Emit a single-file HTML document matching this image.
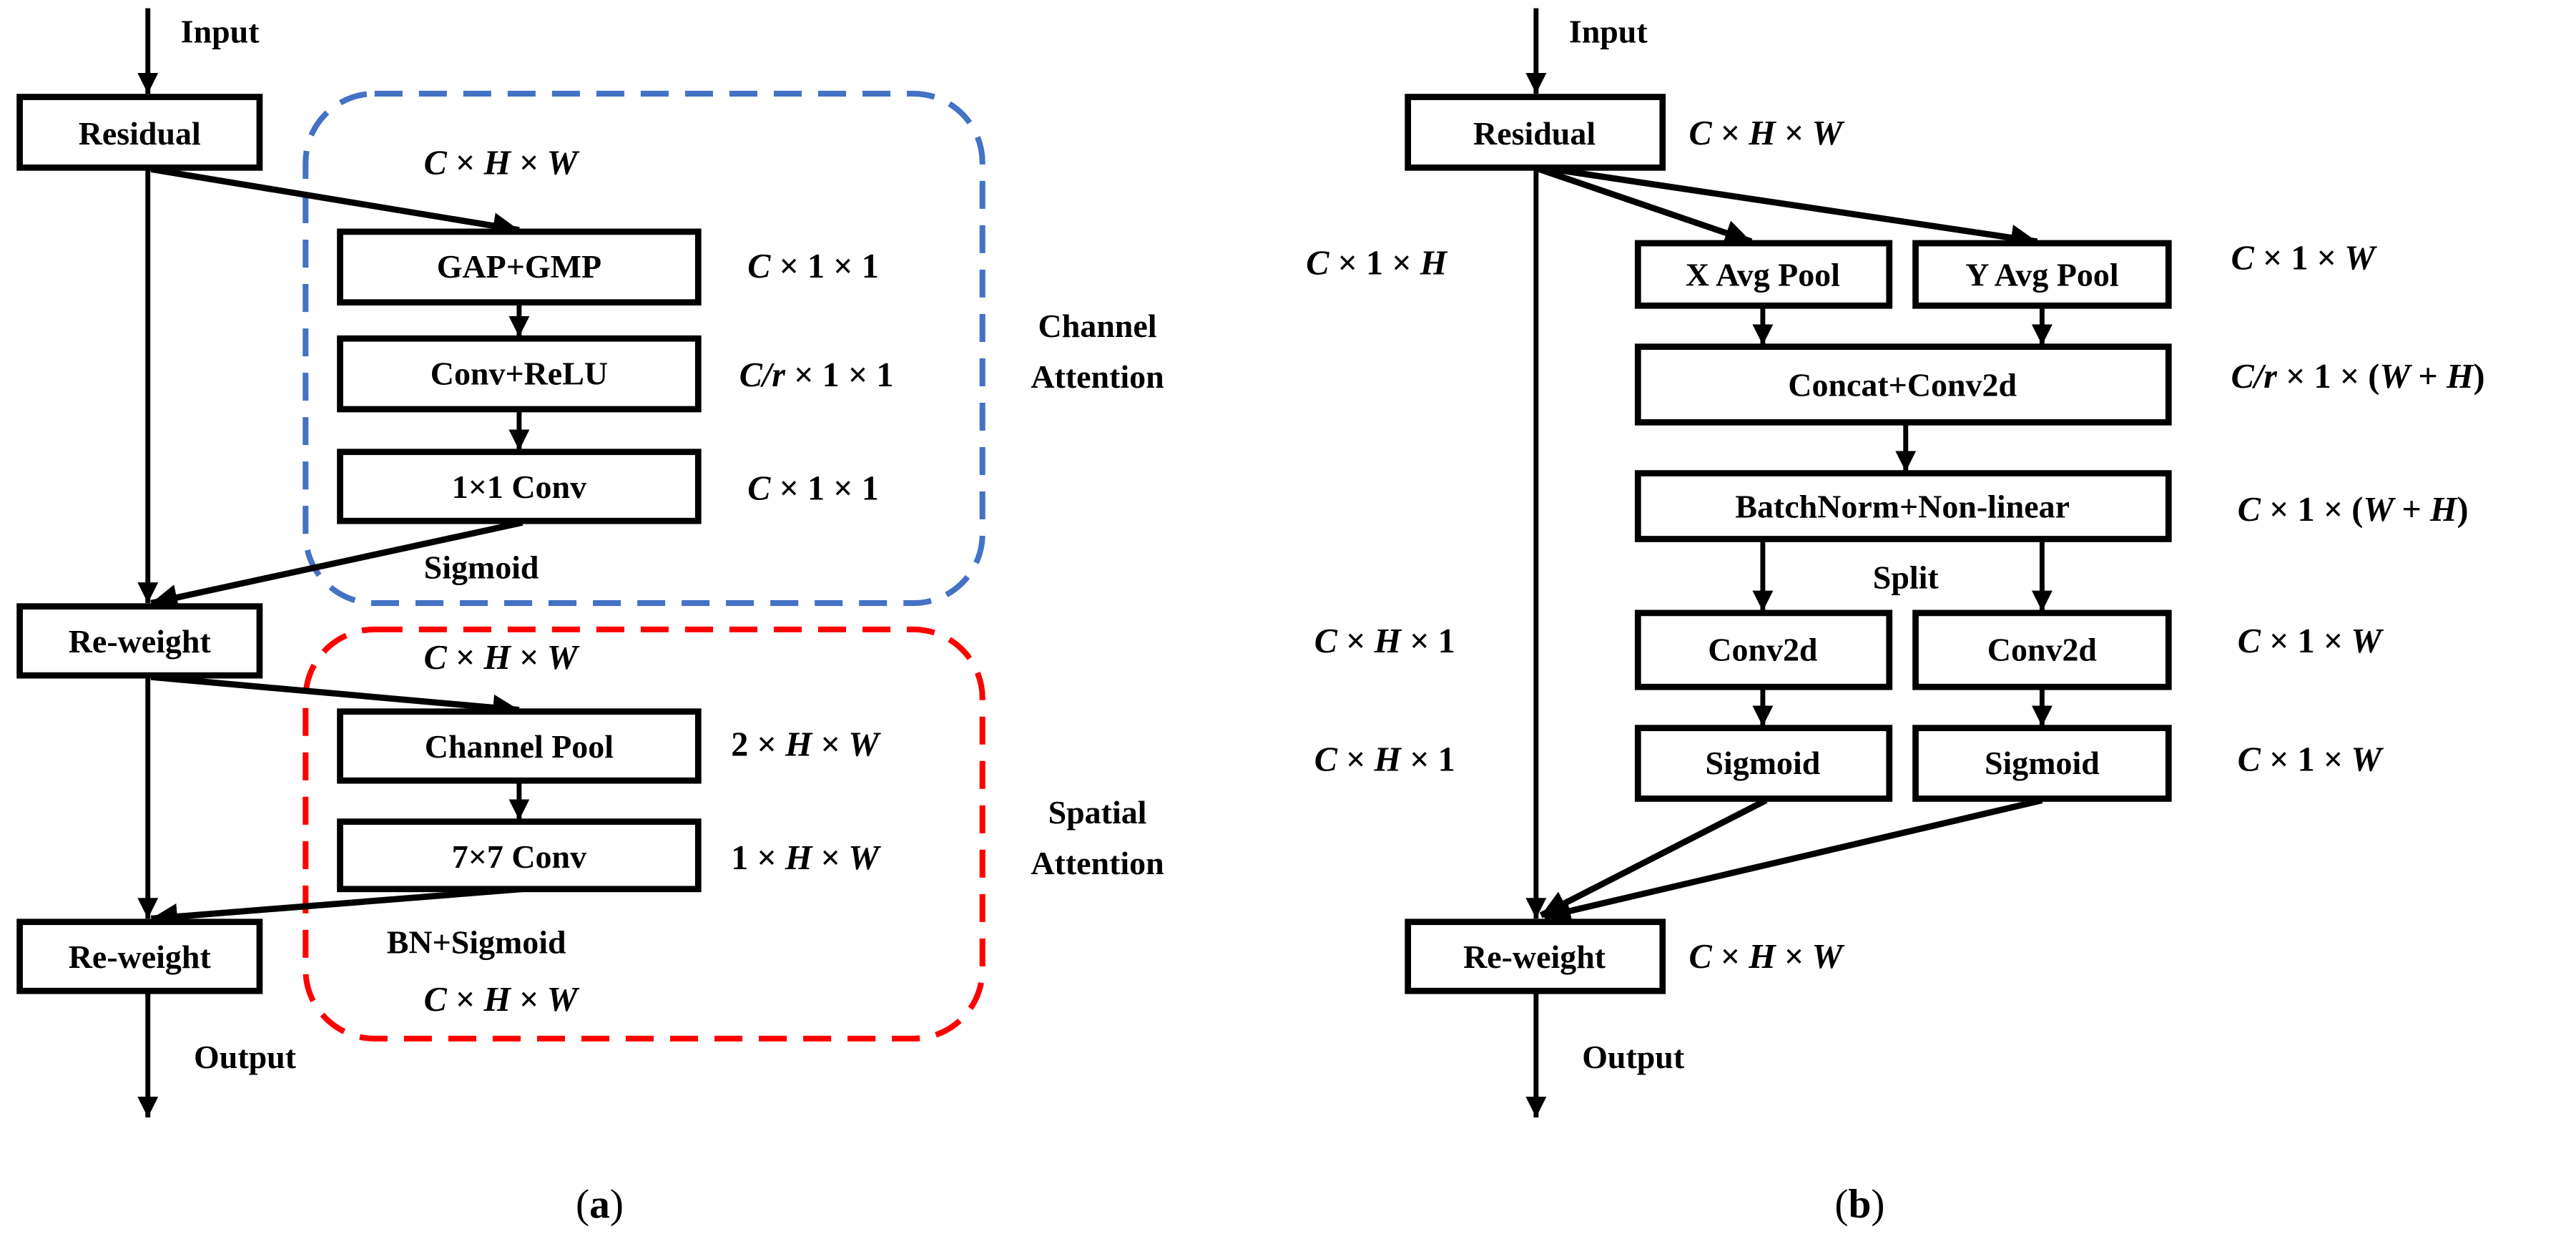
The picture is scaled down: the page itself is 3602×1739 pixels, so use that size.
<!DOCTYPE html>
<html><head><meta charset="utf-8"><style>
html,body{margin:0;padding:0;background:#fff;}
svg{display:block;}
.t{font-family:"Liberation Serif",serif;font-weight:bold;font-size:20px;fill:#000;}
.m{font-family:"Liberation Serif",serif;font-weight:bold;font-style:italic;font-size:21px;fill:#000;}
.n{font-style:normal;}
.b{fill:#fff;stroke:#000;stroke-width:3.8;}
.l{stroke:#000;stroke-width:3;fill:none;}
.l2{stroke:#000;stroke-width:3.8;fill:none;}
</style></head><body>
<svg width="3602" height="1739" viewBox="0 0 1568 757" preserveAspectRatio="none" xmlns="http://www.w3.org/2000/svg">
<defs>
<marker id="a" viewBox="0 0 10 10" refX="10" refY="5" markerWidth="4.2" markerHeight="4.2" orient="auto" markerUnits="strokeWidth"><path d="M0,0 L10,5 L0,10 z" fill="#000"/></marker>
</defs>
<!-- Panel (a) -->
<line class="l" x1="90" y1="5" x2="90" y2="57" marker-end="url(#a)"/>
<text class="t" x="110" y="26">Input</text>
<rect class="b" x="12" y="59" width="146" height="43"/>
<text class="t" x="85" y="88" text-anchor="middle">Residual</text>
<line class="l" x1="90" y1="102" x2="90" y2="367" marker-end="url(#a)"/>
<rect x="186" y="57" width="412" height="310" rx="42" fill="none" stroke="#4472C4" stroke-width="3.5" stroke-dasharray="17,10"/>
<text class="m" x="258" y="106">C <tspan class="n">×</tspan> H <tspan class="n">×</tspan> W</text>
<line class="l2" x1="92" y1="103" x2="316" y2="140" marker-end="url(#a)"/>
<rect class="b" x="207" y="141" width="218" height="43"/>
<text class="t" x="316" y="169" text-anchor="middle">GAP+GMP</text>
<line class="l" x1="316" y1="184" x2="316" y2="205" marker-end="url(#a)"/>
<rect class="b" x="207" y="206" width="218" height="43"/>
<text class="t" x="316" y="234" text-anchor="middle">Conv+ReLU</text>
<line class="l" x1="316" y1="249" x2="316" y2="274" marker-end="url(#a)"/>
<rect class="b" x="207" y="275" width="218" height="42"/>
<text class="t" x="316" y="303" text-anchor="middle">1×1 Conv</text>
<text class="m" x="455" y="169">C <tspan class="n">× 1 × 1</tspan></text>
<text class="m" x="450" y="235">C/r <tspan class="n">× 1 × 1</tspan></text>
<text class="m" x="455" y="304">C <tspan class="n">× 1 × 1</tspan></text>
<text class="t" x="668" y="205" text-anchor="middle">Channel</text>
<text class="t" x="668" y="236" text-anchor="middle">Attention</text>
<line class="l2" x1="318" y1="318" x2="92" y2="367" marker-end="url(#a)"/>
<text class="t" x="293" y="352" text-anchor="middle">Sigmoid</text>
<rect class="b" x="12" y="369" width="146" height="42"/>
<text class="t" x="85" y="397" text-anchor="middle">Re-weight</text>
<line class="l" x1="90" y1="411" x2="90" y2="559" marker-end="url(#a)"/>
<rect x="186" y="383" width="412" height="249" rx="42" fill="none" stroke="#FF0000" stroke-width="3.5" stroke-dasharray="17,10"/>
<text class="m" x="258" y="407">C <tspan class="n">×</tspan> H <tspan class="n">×</tspan> W</text>
<line class="l2" x1="92" y1="412" x2="316" y2="432" marker-end="url(#a)"/>
<rect class="b" x="207" y="433" width="218" height="42"/>
<text class="t" x="316" y="461" text-anchor="middle">Channel Pool</text>
<line class="l" x1="316" y1="475" x2="316" y2="499" marker-end="url(#a)"/>
<rect class="b" x="207" y="500" width="218" height="41"/>
<text class="t" x="316" y="528" text-anchor="middle">7×7 Conv</text>
<text class="m" x="445" y="460"><tspan class="n">2 ×</tspan> H <tspan class="n">×</tspan> W</text>
<text class="m" x="445" y="529"><tspan class="n">1 ×</tspan> H <tspan class="n">×</tspan> W</text>
<text class="t" x="668" y="501" text-anchor="middle">Spatial</text>
<text class="t" x="668" y="532" text-anchor="middle">Attention</text>
<line class="l2" x1="318" y1="541" x2="92" y2="559" marker-end="url(#a)"/>
<rect class="b" x="12" y="561" width="146" height="42"/>
<text class="t" x="85" y="589" text-anchor="middle">Re-weight</text>
<text class="t" x="290" y="580" text-anchor="middle">BN+Sigmoid</text>
<text class="m" x="258" y="615">C <tspan class="n">×</tspan> H <tspan class="n">×</tspan> W</text>
<line class="l" x1="90" y1="603" x2="90" y2="680" marker-end="url(#a)"/>
<text class="t" x="118" y="650">Output</text>
<text x="365" y="741" text-anchor="middle" font-family="Liberation Serif,serif" font-size="25">(<tspan font-weight="bold">a</tspan>)</text>

<!-- Panel (b) -->
<line class="l" x1="935" y1="5" x2="935" y2="57" marker-end="url(#a)"/>
<text class="t" x="955" y="26">Input</text>
<rect class="b" x="857" y="59" width="155" height="43"/>
<text class="t" x="934" y="88" text-anchor="middle">Residual</text>
<text class="m" x="1028" y="88">C <tspan class="n">×</tspan> H <tspan class="n">×</tspan> W</text>
<line class="l" x1="935" y1="102" x2="935" y2="559" marker-end="url(#a)"/>
<line class="l2" x1="937" y1="103" x2="1066" y2="147" marker-end="url(#a)"/>
<line class="l2" x1="945" y1="103" x2="1240" y2="147" marker-end="url(#a)"/>
<rect class="b" x="997" y="148" width="153" height="38"/>
<text class="t" x="1073" y="174" text-anchor="middle">X Avg Pool</text>
<rect class="b" x="1166" y="148" width="154" height="38"/>
<text class="t" x="1243" y="174" text-anchor="middle">Y Avg Pool</text>
<text class="m" x="795" y="167">C <tspan class="n">× 1 ×</tspan> H</text>
<text class="m" x="1358" y="164">C <tspan class="n">× 1 ×</tspan> W</text>
<line class="l" x1="1073" y1="186" x2="1073" y2="210" marker-end="url(#a)"/>
<line class="l" x1="1243" y1="186" x2="1243" y2="210" marker-end="url(#a)"/>
<rect class="b" x="997" y="211" width="323" height="46"/>
<text class="t" x="1158" y="241" text-anchor="middle">Concat+Conv2d</text>
<text class="m" x="1358" y="236">C/r <tspan class="n">× 1 × (</tspan>W <tspan class="n">+</tspan> H<tspan class="n">)</tspan></text>
<line class="l" x1="1160" y1="257" x2="1160" y2="287" marker-end="url(#a)"/>
<rect class="b" x="997" y="288" width="323" height="40"/>
<text class="t" x="1158" y="315" text-anchor="middle">BatchNorm+Non-linear</text>
<text class="m" x="1362" y="317">C <tspan class="n">× 1 × (</tspan>W <tspan class="n">+</tspan> H<tspan class="n">)</tspan></text>
<line class="l" x1="1073" y1="328" x2="1073" y2="372" marker-end="url(#a)"/>
<line class="l" x1="1243" y1="328" x2="1243" y2="372" marker-end="url(#a)"/>
<text class="t" x="1160" y="358" text-anchor="middle">Split</text>
<rect class="b" x="997" y="373" width="153" height="45"/>
<text class="t" x="1073" y="402" text-anchor="middle">Conv2d</text>
<rect class="b" x="1166" y="373" width="154" height="45"/>
<text class="t" x="1243" y="402" text-anchor="middle">Conv2d</text>
<text class="m" x="800" y="397">C <tspan class="n">×</tspan> H <tspan class="n">× 1</tspan></text>
<text class="m" x="1362" y="397">C <tspan class="n">× 1 ×</tspan> W</text>
<line class="l" x1="1073" y1="418" x2="1073" y2="442" marker-end="url(#a)"/>
<line class="l" x1="1243" y1="418" x2="1243" y2="442" marker-end="url(#a)"/>
<rect class="b" x="997" y="443" width="153" height="43"/>
<text class="t" x="1073" y="471" text-anchor="middle">Sigmoid</text>
<rect class="b" x="1166" y="443" width="154" height="43"/>
<text class="t" x="1243" y="471" text-anchor="middle">Sigmoid</text>
<text class="m" x="800" y="469">C <tspan class="n">×</tspan> H <tspan class="n">× 1</tspan></text>
<text class="m" x="1362" y="469">C <tspan class="n">× 1 ×</tspan> W</text>
<line class="l2" x1="1075" y1="487" x2="938" y2="557" marker-end="url(#a)"/>
<line class="l2" x1="1243" y1="487" x2="940" y2="558" marker-end="url(#a)"/>
<rect class="b" x="857" y="561" width="155" height="42"/>
<text class="t" x="934" y="589" text-anchor="middle">Re-weight</text>
<text class="m" x="1028" y="589">C <tspan class="n">×</tspan> H <tspan class="n">×</tspan> W</text>
<line class="l" x1="935" y1="603" x2="935" y2="680" marker-end="url(#a)"/>
<text class="t" x="963" y="650">Output</text>
<text x="1132" y="741" text-anchor="middle" font-family="Liberation Serif,serif" font-size="25">(<tspan font-weight="bold">b</tspan>)</text>
</svg>
</body></html>
